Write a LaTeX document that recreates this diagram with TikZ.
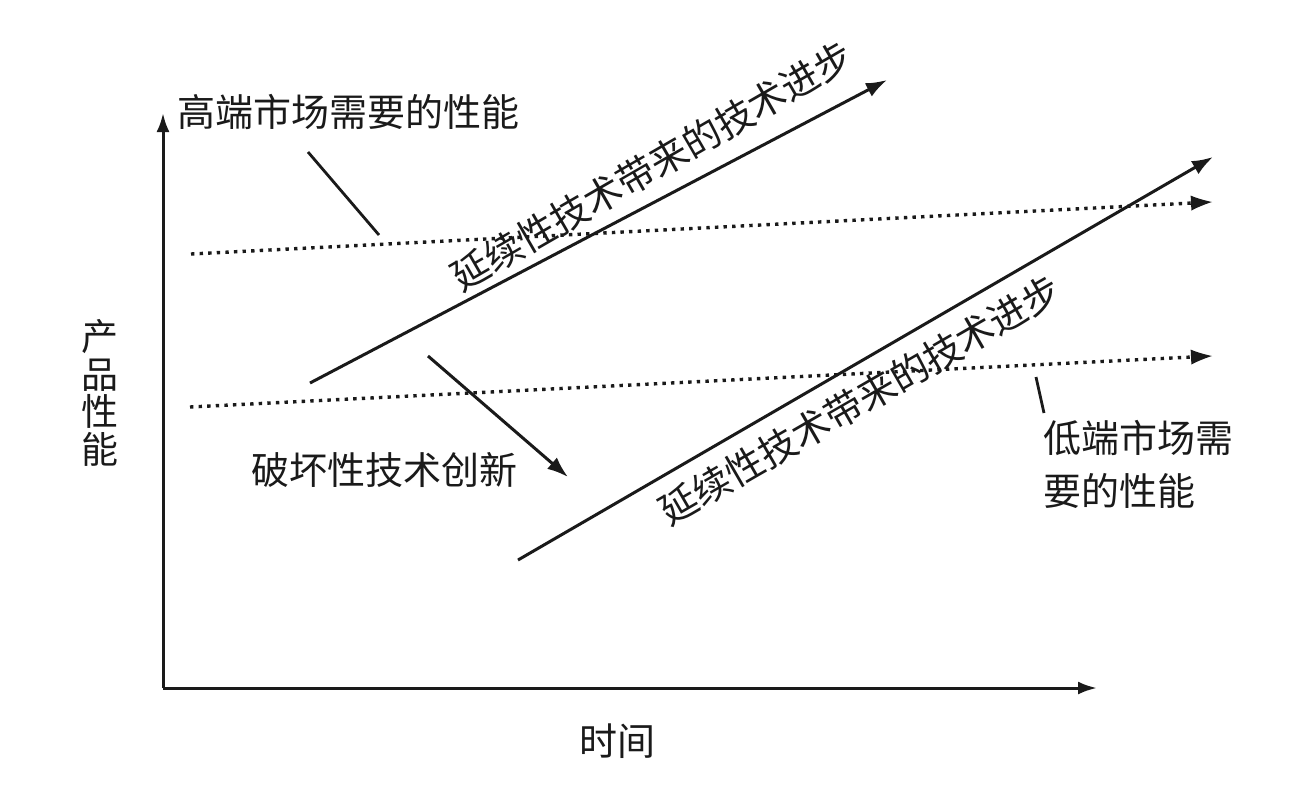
\documentclass[tikz,border=0pt]{standalone}
\usepackage{fontspec}
\setmainfont{Noto Sans CJK SC}
\usetikzlibrary{arrows.meta}
\definecolor{ink}{HTML}{1A1A1A}
\tikzset{
  lbl/.style={inner sep=0pt, text=ink, font=\fontsize{38}{38}\selectfont},
  solidarrow/.style={draw=ink, line width=3pt, -{Latex[length=21pt,width=15pt]}},
  dotarrow/.style={draw=ink, line width=3.4pt, dash pattern=on 3.4pt off 5.2pt, -{Latex[length=21pt,width=15pt,line width=0pt]}},
  leader/.style={draw=ink, line width=2.8pt},
  axis/.style={draw=ink, line width=3pt, -{Latex[length=19pt,width=13pt]}}
}
\begin{document}
\begin{tikzpicture}[x=1pt,y=-1pt]
\useasboundingbox (0,0) rectangle (1304,788);
\fill[white] (0,0) rectangle (1304,788);
% axes
\coordinate (O) at (163,688);
\coordinate (ytop) at (163,113);
\coordinate (xend) at (1097,688);
\draw[axis] (O) -- (ytop);
\draw[axis] (O) -- (xend);
\node[lbl, align=center, font=\fontsize{37}{37.5}\selectfont] (ylab) at (100,393) {产\\品\\性\\能};
\node[lbl] (xlab) at (617,741) {时间};
% high-end demand
\node[lbl, anchor=west] (high) at (177,112) {高端市场需要的性能};
\coordinate (hl1) at (308,152);
\coordinate (hl2) at (379,235);
\draw[leader] (hl1) -- (hl2);
\coordinate (hd1) at (191,254);
\coordinate (hd2) at (1212,202);
\draw[dotarrow] (hd1) -- (hd2);
% low-end demand
\coordinate (ld1) at (190,407);
\coordinate (ld2) at (1212,356);
\draw[dotarrow] (ld1) -- (ld2);
\coordinate (ll1) at (1036,377);
\coordinate (ll2) at (1044,413);
\draw[leader] (ll1) -- (ll2);
\node[lbl, anchor=north west, align=left, font=\fontsize{38}{53}\selectfont] (low) at (1043,420) {低端市场需\\要的性能};
% sustaining upper
\coordinate (u1) at (310,383);
\coordinate (u2) at (887,80);
\draw[solidarrow] (u1) -- (u2);
\node[lbl, rotate=30] (utext) at (652,166) {延续性技术带来的技术进步};
% sustaining lower
\coordinate (s1) at (518,560);
\coordinate (s2) at (1213,157);
\draw[solidarrow] (s1) -- (s2);
\node[lbl, rotate=30] (stext) at (860,400) {延续性技术带来的技术进步};
% disruptive
\coordinate (d1) at (428,356);
\coordinate (d2) at (568,477);
\draw[solidarrow] (d1) -- (d2);
\node[lbl] (dtext) at (384,470) {破坏性技术创新};
\end{tikzpicture}
\end{document}
